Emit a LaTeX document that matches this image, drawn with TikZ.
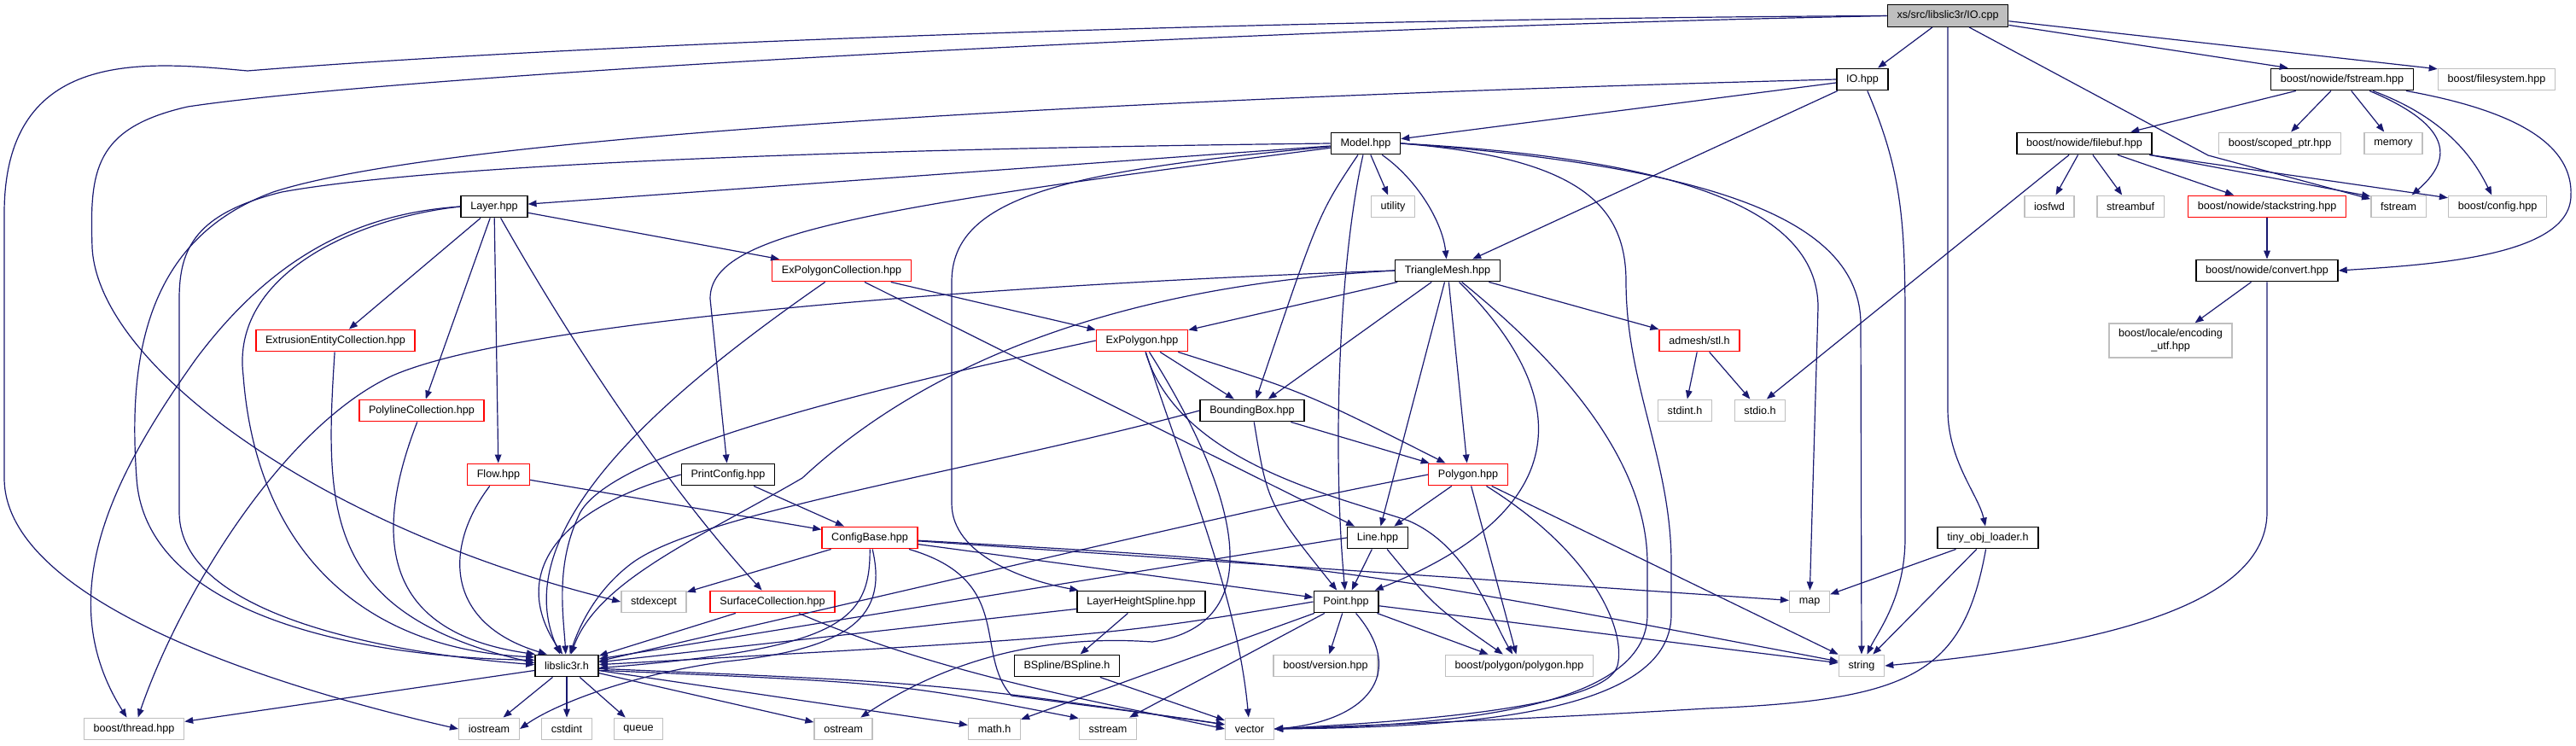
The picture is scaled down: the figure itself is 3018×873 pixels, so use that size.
\documentclass[tikz,border=0pt]{standalone}
\usepackage{fontspec}
\setmainfont{Liberation Sans}
\usetikzlibrary{arrows.meta}
\definecolor{edgeblue}{RGB}{25,25,112}
\definecolor{extgray}{RGB}{191,191,191}
\definecolor{truncred}{RGB}{255,0,0}

\begin{document}
\begin{tikzpicture}[
  x=0.5pt, y=-0.5pt,
  font=\fontsize{6.3}{7.5}\selectfont,
  box/.style={draw=black, line width=0.7pt, fill=white, rectangle, align=center, inner xsep=5.6pt, inner ysep=0pt, minimum height=12.75pt},
  root/.style={box, fill=extgray},
  trunc/.style={box, draw=truncred},
  ext/.style={box, draw=extgray},
  arr/.style={-{Triangle[length=5pt,width=3.8pt]}, draw=edgeblue, line width=0.6pt}
]
\useasboundingbox (0,0) rectangle (3018,873);

% files
\node[root] (iocpp) at (2282,18.5) {xs/src/libslic3r/IO.cpp};
\node[box] (iohpp) at (2182,93) {IO.hpp};
\node[box] (nfstream) at (2744,93) {boost/nowide/fstream.hpp};
\node[ext] (bfs) at (2925,93) {boost/filesystem.hpp};
\node[box] (model) at (1600,168) {Model.hpp};
\node[box] (nfilebuf) at (2442,168) {boost/nowide/filebuf.hpp};
\node[ext] (scoped) at (2671,168) {boost/scoped\_ptr.hpp};
\node[ext] (memory) at (2804,168) {memory};
\node[box] (layer) at (579,242) {Layer.hpp};
\node[ext] (utility) at (1632,242) {utility};
\node[ext] (iosfwd) at (2401,242) {iosfwd};
\node[ext] (streambuf) at (2496,242) {streambuf};
\node[trunc] (stackstr) at (2656,242) {boost/nowide/stackstring.hpp};
\node[ext] (fstream) at (2810,242) {fstream};
\node[ext] (bconfig) at (2926,242) {boost/config.hpp};
\node[trunc] (expolycoll) at (986,317) {ExPolygonCollection.hpp};
\node[box] (trimesh) at (1696,317) {TriangleMesh.hpp};
\node[box] (convert) at (2656,317) {boost/nowide/convert.hpp};
\node[trunc] (extrcoll) at (393,399) {ExtrusionEntityCollection.hpp};
\node[trunc] (expoly) at (1338,399) {ExPolygon.hpp};
\node[trunc] (admesh) at (1991,399) {admesh/stl.h};
\node[ext, minimum height=20pt] (encutf) at (2543,399) {boost/locale/encoding\\\_utf.hpp};
\node[trunc] (polycoll) at (494,481) {PolylineCollection.hpp};
\node[box] (bbox) at (1467,481) {BoundingBox.hpp};
\node[ext] (stdint) at (1974,481) {stdint.h};
\node[ext] (stdio) at (2062,481) {stdio.h};
\node[trunc] (flow) at (584,556) {Flow.hpp};
\node[box] (printcfg) at (853,556) {PrintConfig.hpp};
\node[trunc] (polygon) at (1720,556) {Polygon.hpp};
\node[trunc] (configbase) at (1019,630) {ConfigBase.hpp};
\node[box] (line) at (1614,630) {Line.hpp};
\node[box] (tinyobj) at (2329,630) {tiny\_obj\_loader.h};
\node[ext] (stdexcept) at (766,705) {stdexcept};
\node[trunc] (surfcoll) at (905,705) {SurfaceCollection.hpp};
\node[box] (lhspline) at (1337,705) {LayerHeightSpline.hpp};
\node[box] (point) at (1577,705) {Point.hpp};
\node[ext] (map) at (2120,705) {map};
\node[box] (libslic) at (664,780) {libslic3r.h};
\node[box] (bspline) at (1250,780) {BSpline/BSpline.h};
\node[ext] (bversion) at (1553,780) {boost/version.hpp};
\node[ext] (bpolygon) at (1780,780) {boost/polygon/polygon.hpp};
\node[ext] (string) at (2181,780) {string};
\node[ext] (bthread) at (157,854) {boost/thread.hpp};
\node[ext] (iostream) at (573,854) {iostream};
\node[ext] (cstdint) at (664,854) {cstdint};
\node[ext] (queue) at (748,854) {queue};
\node[ext] (ostream) at (988,854) {ostream};
\node[ext] (mathh) at (1165,854) {math.h};
\node[ext] (sstream) at (1298,854) {sstream};
\node[ext] (vector) at (1464,854) {vector};

% IO.cpp
\draw[arr] (iocpp) -- (iohpp);
\draw[arr] (iocpp) -- (nfstream.168);
\draw[arr] (iocpp.-5) -- (bfs.170);
\draw[arr] (iocpp.south) -- (2282,480) .. controls (2282,540) and (2318,580) .. (tinyobj);
\draw[arr] (iocpp) -- (2587,182) -- (fstream.165);
\draw[arr] (iocpp.west) .. controls (1500,22) and (700,50) .. (290,83) .. controls (170,72) and (5,55) .. (5,250) -- (5,560) .. controls (5,700) and (300,800) .. (iostream.west);
\draw[arr] (iocpp.west) .. controls (1400,35) and (450,90) .. (220,125) .. controls (110,150) and (105,200) .. (108,290) .. controls (115,430) and (380,620) .. (stdexcept.west);

% IO.hpp
\draw[arr] (iohpp) -- (model);
\draw[arr] (iohpp) -- (trimesh);
\draw[arr] (iohpp) .. controls (2228,200) and (2232,260) .. (2232,380) -- (2232,630) .. controls (2232,700) and (2200,740) .. (string);
\draw[arr] (iohpp.west) .. controls (1500,110) and (550,150) .. (320,225) .. controls (170,280) and (150,420) .. (160,560) .. controls (170,720) and (420,770) .. (libslic.170);

% Model.hpp
\draw[arr] (model.west) .. controls (1200,172) and (550,185) .. (330,225) .. controls (230,250) and (210,290) .. (210,350) -- (210,600) .. controls (210,720) and (450,765) .. (libslic.178);
\draw[arr] (model) -- (layer);
\draw[arr] (model) .. controls (1000,245) and (832,275) .. (832,350) -- (printcfg);
\draw[arr] (model) .. controls (1250,200) and (1115,230) .. (1115,330) -- (1115,590) .. controls (1115,650) and (1200,680) .. (lhspline);
\draw[arr] (model) .. controls (1545,250) .. (bbox);
\draw[arr] (model) .. controls (1570,300) and (1560,520) .. (point);
\draw[arr] (model) -- (utility);
\draw[arr] (model) .. controls (1660,210) and (1690,260) .. (trimesh);
\draw[arr] (model.east) .. controls (1850,185) and (1905,240) .. (1905,330) .. controls (1905,450) and (1958,540) .. (1958,660) -- (1958,720) .. controls (1958,840) and (1700,852) .. (vector.east);
\draw[arr] (model.east) .. controls (1950,185) and (2130,240) .. (2130,360) -- (map);
\draw[arr] (model.east) .. controls (2000,195) and (2180,255) .. (2180,380) -- (string);

% Layer.hpp
\draw[arr] (layer) -- (expolycoll);
\draw[arr] (layer) -- (extrcoll);
\draw[arr] (layer) -- (polycoll);
\draw[arr] (layer) -- (flow);
\draw[arr] (layer) .. controls (680,420) and (790,580) .. (surfcoll);
\draw[arr] (layer.west) .. controls (420,255) and (270,320) .. (285,440) .. controls (300,640) and (420,760) .. (libslic.165);
\draw[arr] (layer.west) .. controls (420,250) and (320,300) .. (230,420) .. controls (130,560) and (60,700) .. (bthread);

% ExPolygonCollection.hpp
\draw[arr] (expolycoll) -- (expoly);
\draw[arr] (expolycoll) -- (line);
\draw[arr] (expolycoll) .. controls (780,460) and (590,620) .. (libslic.120);

% TriangleMesh.hpp
\draw[arr] (trimesh) -- (expoly);
\draw[arr] (trimesh) -- (bbox);
\draw[arr] (trimesh) -- (polygon);
\draw[arr] (trimesh) -- (admesh);
\draw[arr] (trimesh) -- (line);
\draw[arr] (trimesh) .. controls (1850,470) and (1840,600) .. (point);
\draw[arr] (trimesh) .. controls (1860,450) and (1930,560) .. (1930,660) -- (1930,720) .. controls (1930,830) and (1700,850) .. (vector.east);
\draw[arr] (trimesh.west) .. controls (1250,330) and (620,370) .. (460,440) .. controls (330,500) and (210,700) .. (bthread);
\draw[arr] (trimesh.west) .. controls (1300,335) and (1080,430) .. (940,560) .. controls (820,630) and (700,680) .. (libslic.70);

% Polygon.hpp
\draw[arr] (polygon) -- (line);
\draw[arr] (polygon) -- (bpolygon);
\draw[arr] (polygon) -- (string);
\draw[arr] (polygon) .. controls (1870,650) and (1905,740) .. (1895,780) .. controls (1880,830) and (1650,845) .. (vector.east);
\draw[arr] (polygon.west) .. controls (1500,590) .. (libslic.8);

% ExPolygon.hpp
\draw[arr] (expoly) -- (bbox);
\draw[arr] (expoly) .. controls (1530,460) .. (polygon);
\draw[arr] (expoly.west) .. controls (1000,460) and (720,530) .. (680,600) .. controls (650,660) and (660,720) .. (libslic.95);
\draw[arr] (expoly) .. controls (1440,560) and (1500,730) .. (1350,752) .. controls (1250,745) and (1130,760) .. (ostream);
\draw[arr] (expoly) .. controls (1390,560) and (1450,700) .. (vector);
\draw[arr] (expoly) .. controls (1380,540) and (1560,580) .. (1650,610) .. controls (1720,640) and (1745,720) .. (bpolygon);

% BoundingBox.hpp
\draw[arr] (bbox) .. controls (1485,590) .. (point);
\draw[arr] (bbox) -- (polygon);
\draw[arr] (bbox.west) .. controls (1150,550) and (820,600) .. (740,660) .. controls (700,690) and (680,730) .. (libslic.75);

% Line.hpp
\draw[arr] (line) -- (point);
\draw[arr] (line) .. controls (1680,710) .. (bpolygon);
\draw[arr] (line.west) -- (libslic.12);

% Point.hpp
\draw[arr] (point.west) .. controls (1300,745) .. (libslic.2);
\draw[arr] (point) -- (bversion);
\draw[arr] (point) -- (bpolygon);
\draw[arr] (point) -- (mathh);
\draw[arr] (point) -- (sstream);
\draw[arr] (point) .. controls (1650,790) and (1600,845) .. (vector.east);
\draw[arr] (point) -- (string);

% ConfigBase.hpp
\draw[arr] (configbase) -- (map);
\draw[arr] (configbase) .. controls (1550,660) .. (string);
\draw[arr] (configbase) -- (point);
\draw[arr] (configbase) .. controls (1190,680) and (1140,765) .. (1185,815) .. controls (1260,825) and (1380,840) .. (vector.170);
\draw[arr] (configbase) -- (stdexcept);
\draw[arr] (configbase) .. controls (1020,730) and (980,760) .. (libslic.-4);
\draw[arr] (configbase) .. controls (1040,720) and (1000,760) .. (850,775) .. controls (740,790) and (650,825) .. (iostream.east);

% SurfaceCollection.hpp
\draw[arr] (surfcoll) -- (libslic);
\draw[arr] (surfcoll) .. controls (1100,790) and (1300,825) .. (vector.west);

% PrintConfig.hpp, Flow.hpp
\draw[arr] (printcfg) -- (configbase);
\draw[arr] (printcfg.west) .. controls (640,600) and (600,680) .. (libslic.110);
\draw[arr] (flow) -- (configbase);
\draw[arr] (flow) .. controls (520,640) and (520,730) .. (libslic.150);

% collections
\draw[arr] (extrcoll) .. controls (380,600) and (380,720) .. (libslic.175);
\draw[arr] (polycoll) .. controls (440,620) and (440,740) .. (libslic.160);

% LayerHeightSpline.hpp, BSpline.h
\draw[arr] (lhspline) -- (bspline);
\draw[arr] (lhspline) -- (libslic);
\draw[arr] (bspline) -- (vector);

% libslic3r.h
\draw[arr] (libslic) -- (bthread);
\draw[arr] (libslic) -- (iostream);
\draw[arr] (libslic) -- (cstdint);
\draw[arr] (libslic) -- (queue);
\draw[arr] (libslic) -- (ostream);
\draw[arr] (libslic) -- (mathh);
\draw[arr] (libslic.-8) .. controls (1050,800) .. (sstream.160);
\draw[arr] (libslic.-5) .. controls (1100,800) .. (vector.170);

% tiny_obj_loader.h
\draw[arr] (tinyobj) -- (map);
\draw[arr] (tinyobj) -- (string);
\draw[arr] (tinyobj) .. controls (2300,790) and (2240,820) .. (2000,830) .. controls (1800,842) and (1600,850) .. (vector.east);

% boost/nowide
\draw[arr] (nfstream) -- (nfilebuf);
\draw[arr] (nfstream) -- (scoped);
\draw[arr] (nfstream) -- (memory);
\draw[arr] (nfstream) .. controls (2880,150) and (2870,190) .. (fstream);
\draw[arr] (nfstream) .. controls (2870,140) and (2900,190) .. (bconfig);
\draw[arr] (nfstream) .. controls (2950,130) and (3015,170) .. (3012,230) .. controls (3010,300) and (2850,310) .. (convert.east);
\draw[arr] (nfilebuf) -- (iosfwd);
\draw[arr] (nfilebuf) -- (streambuf);
\draw[arr] (nfilebuf) -- (stackstr);
\draw[arr] (nfilebuf.-10) -- (fstream.160);
\draw[arr] (nfilebuf.-10) -- (bconfig.170);
\draw[arr] (nfilebuf.-143) -- (stdio.60);
\draw[arr] (stackstr) -- (convert);
\draw[arr] (convert) -- (encutf);
\draw[arr] (convert) -- (2656,600) .. controls (2656,720) and (2420,760) .. (string.east);

% admesh
\draw[arr] (admesh) -- (stdint);
\draw[arr] (admesh) -- (stdio);
\end{tikzpicture}
\end{document}
